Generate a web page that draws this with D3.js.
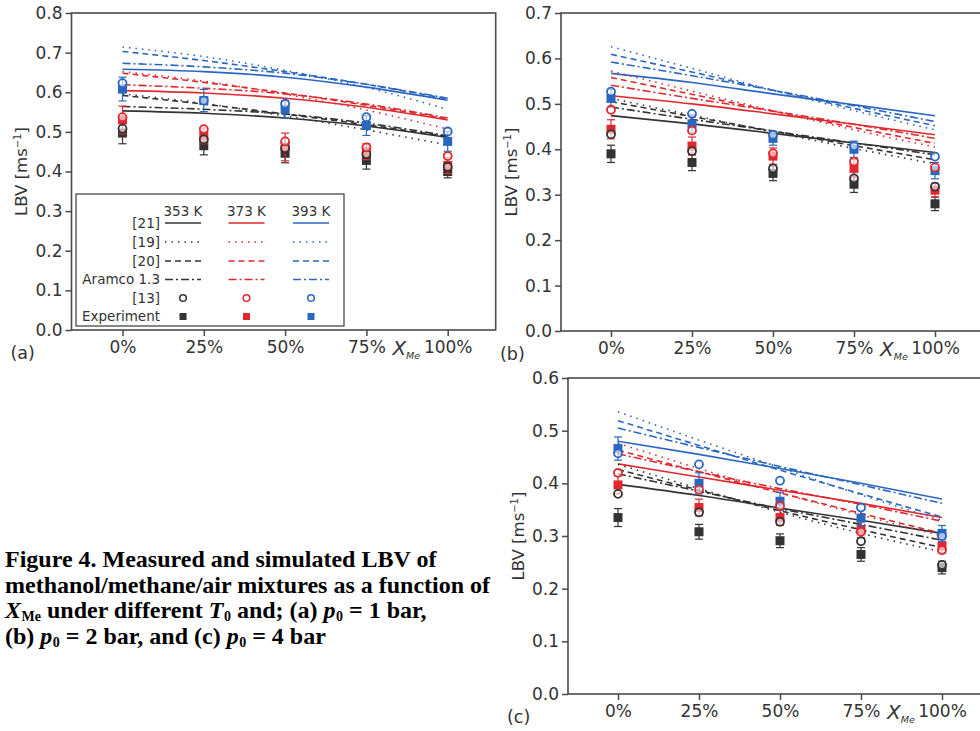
<!DOCTYPE html>
<head>
  <meta charset="utf-8">
  <script src="https://d3js.org/d3.v7.min.js"></script>
  <style>
    body { margin:0; background:#fff; }
    svg text { font-family: "DejaVu Sans", sans-serif; fill:#333; }
    .caption { font-family: "Liberation Serif", "Times New Roman", serif; font-weight: bold; font-size: 24px; fill:#000; }
  </style>
</head>
<body>
<script>
// x categories (methanol fraction X_Me, %) and initial temperatures
var xPct = [0, 25, 50, 75, 100];
var temps = ["353 K", "373 K", "393 K"];

// (a) p0 = 1 bar -- rows: 353 K, 373 K, 393 K
var a21     = [[0.553, 0.547, 0.535, 0.515, 0.486], [0.604, 0.598, 0.585, 0.562, 0.530], [0.658, 0.652, 0.638, 0.613, 0.580]];
var a19     = [[0.596, 0.572, 0.540, 0.505, 0.467], [0.652, 0.628, 0.595, 0.555, 0.507], [0.714, 0.690, 0.655, 0.612, 0.557]];
var a20     = [[0.592, 0.570, 0.545, 0.518, 0.488], [0.648, 0.625, 0.598, 0.567, 0.533], [0.703, 0.680, 0.652, 0.620, 0.583]];
var aAramco = [[0.564, 0.557, 0.545, 0.522, 0.490], [0.619, 0.610, 0.596, 0.570, 0.535], [0.673, 0.664, 0.648, 0.620, 0.585]];
var a13     = [[0.508, 0.481, 0.459, 0.444, 0.412], [0.537, 0.507, 0.476, 0.461, 0.439], [0.623, 0.579, 0.571, 0.537, 0.501]];
var aExp    = [[0.497, 0.465, 0.446, 0.428, 0.400], [0.530, 0.490, 0.462, 0.450, 0.415], [0.608, 0.579, 0.557, 0.516, 0.476]];
var aErr    = [[0.027, 0.023, 0.024, 0.022, 0.016], [0.035, 0.020, 0.035, 0.020, 0.020], [0.030, 0.028, 0.022, 0.025, 0.025]];

// (b) p0 = 2 bar
var b21     = [[0.474, 0.456, 0.435, 0.414, 0.393], [0.518, 0.500, 0.478, 0.455, 0.432], [0.567, 0.547, 0.522, 0.498, 0.474]];
var b19     = [[0.512, 0.475, 0.438, 0.402, 0.368], [0.572, 0.528, 0.485, 0.443, 0.405], [0.626, 0.578, 0.530, 0.485, 0.443]];
var b20     = [[0.505, 0.472, 0.440, 0.408, 0.377], [0.558, 0.521, 0.484, 0.448, 0.413], [0.609, 0.570, 0.530, 0.490, 0.452]];
var bAramco = [[0.493, 0.466, 0.440, 0.414, 0.388], [0.541, 0.512, 0.484, 0.455, 0.424], [0.592, 0.562, 0.530, 0.496, 0.461]];
var b13     = [[0.433, 0.396, 0.358, 0.336, 0.318], [0.487, 0.441, 0.391, 0.373, 0.360], [0.527, 0.478, 0.432, 0.407, 0.384]];
var bExp    = [[0.390, 0.371, 0.347, 0.323, 0.280], [0.444, 0.407, 0.385, 0.358, 0.310], [0.512, 0.456, 0.424, 0.400, 0.353]];
var bErr    = [[0.019, 0.018, 0.016, 0.018, 0.015], [0.021, 0.020, 0.018, 0.020, 0.015], [0.020, 0.020, 0.015, 0.018, 0.018]];

// (c) p0 = 4 bar
var c21     = [[0.398, 0.377, 0.353, 0.330, 0.305], [0.437, 0.412, 0.387, 0.362, 0.335], [0.480, 0.455, 0.428, 0.400, 0.370]];
var c19     = [[0.436, 0.390, 0.345, 0.305, 0.270], [0.476, 0.428, 0.382, 0.340, 0.300], [0.536, 0.482, 0.430, 0.378, 0.330]];
var c20     = [[0.426, 0.387, 0.348, 0.312, 0.278], [0.463, 0.422, 0.382, 0.343, 0.305], [0.519, 0.472, 0.425, 0.380, 0.336]];
var cAramco = [[0.418, 0.385, 0.352, 0.322, 0.292], [0.456, 0.422, 0.390, 0.360, 0.328], [0.505, 0.468, 0.432, 0.397, 0.362]];
var c13     = [[0.380, 0.345, 0.327, 0.290, 0.245], [0.420, 0.388, 0.357, 0.308, 0.273], [0.457, 0.436, 0.405, 0.354, 0.300]];
var cExp    = [[0.335, 0.308, 0.291, 0.265, 0.240], [0.397, 0.354, 0.335, 0.312, 0.281], [0.466, 0.400, 0.366, 0.334, 0.305]];
var cErr    = [[0.017, 0.014, 0.013, 0.013, 0.012], [0.017, 0.016, 0.015, 0.015, 0.013], [0.022, 0.020, 0.017, 0.015, 0.015]];

var yTicksA = [0, 0.1, 0.2, 0.3, 0.4, 0.5, 0.6, 0.7, 0.8];
var yTicksB = [0, 0.1, 0.2, 0.3, 0.4, 0.5, 0.6, 0.7];
var yTicksC = [0, 0.1, 0.2, 0.3, 0.4, 0.5, 0.6];

var tempColor = ["#333333", "#e0282e", "#2a67c0"];
var models = [
  {name: "[21]", dash: null},
  {name: "[19]", dash: "1.5,5"},
  {name: "[20]", dash: "6,4"},
  {name: "Aramco 1.3", dash: "8,3,2,3"}
];

var panels = [
  {tag: "(a)", left: 71.5, right: 495.7, x0: 122.5, x100: 447.7, top: 13, bottom: 330, ticks: yTicksA,
   lines: [a21, a19, a20, aAramco], sim: a13, exp: aExp, err: aErr, legend: true},
  {tag: "(b)", left: 561, right: 985, x0: 611, x100: 935, top: 13, bottom: 331, ticks: yTicksB,
   lines: [b21, b19, b20, bAramco], sim: b13, exp: bExp, err: bErr},
  {tag: "(c)", left: 568, right: 996, x0: 618, x100: 942, top: 378, bottom: 694, ticks: yTicksC,
   lines: [c21, c19, c20, cAramco], sim: c13, exp: cExp, err: cErr}
];

var svg = d3.select("body").append("svg")
  .attr("width", 980)
  .attr("height", 731);

panels.forEach(function(p) {
  var g = svg.append("g");
  var x = d3.scaleLinear().domain([0, 100]).range([p.x0, p.x100]);
  var y = d3.scaleLinear().domain([0, d3.max(p.ticks)]).range([p.bottom, p.top]);

  g.append("rect")
    .attr("x", p.left).attr("y", p.top)
    .attr("width", p.right - p.left).attr("height", p.bottom - p.top)
    .attr("fill", "none").attr("stroke", "#4a4a4a").attr("stroke-width", 1.6);

  var yAxis = g.append("g")
    .attr("transform", "translate(" + p.left + ",0)")
    .call(d3.axisLeft(y).tickValues(p.ticks).tickFormat(d3.format(".1f")).tickSize(6).tickPadding(3));
  var xAxis = g.append("g")
    .attr("transform", "translate(0," + p.bottom + ")")
    .call(d3.axisBottom(x).tickValues(xPct).tickFormat(function(d) { return d + "%"; }).tickSize(6).tickPadding(5));
  [yAxis, xAxis].forEach(function(ax) {
    ax.select(".domain").remove();
    ax.selectAll(".tick line").attr("stroke", "#4a4a4a").attr("stroke-width", 1.5);
    ax.selectAll(".tick text").style("font-size", "17px").attr("fill", "#333");
  });

  // axis titles
  var yl = g.append("text")
    .attr("transform", "translate(" + (p.left - 50) + "," + ((p.top + p.bottom) / 2) + ") rotate(-90)")
    .attr("text-anchor", "middle")
    .attr("dy", "0.35em")
    .style("font-size", "16.5px");
  yl.append("tspan").text("LBV [ms");
  yl.append("tspan").text("\u22121").style("font-size", "10px").attr("dy", -6);
  yl.append("tspan").text("]").attr("dy", 6);

  var xl = g.append("text")
    .attr("x", x(75) + 26).attr("y", p.bottom + 25)
    .style("font-size", "20px").style("font-style", "italic");
  xl.append("tspan").text("X");
  xl.append("tspan").text("Me").style("font-size", "9.5px").attr("dy", 4);

  g.append("text")
    .attr("x", p.left - 61).attr("y", p.bottom + 29)
    .style("font-size", "17.5px")
    .text(p.tag);

  // simulation lines
  var line = d3.line()
    .x(function(d) { return x(d[0]); })
    .y(function(d) { return y(d[1]); })
    .curve(d3.curveMonotoneX);
  p.lines.forEach(function(set, m) {
    set.forEach(function(vals, t) {
      g.append("path")
        .datum(xPct.map(function(v, j) { return [v, vals[j]]; }))
        .attr("d", line)
        .attr("fill", "none")
        .attr("stroke", tempColor[t])
        .attr("stroke-width", 1.6)
        .attr("stroke-dasharray", models[m].dash);
    });
  });

  // experiments with error bars
  p.exp.forEach(function(vals, t) {
    var pts = xPct.map(function(v, j) { return {x: v, y: vals[j], e: p.err[t][j]}; });
    var eb = g.append("g").attr("stroke", tempColor[t]).attr("stroke-width", 1.2);
    pts.forEach(function(d) {
      eb.append("line").attr("x1", x(d.x)).attr("x2", x(d.x)).attr("y1", y(d.y - d.e)).attr("y2", y(d.y + d.e));
      eb.append("line").attr("x1", x(d.x) - 4).attr("x2", x(d.x) + 4).attr("y1", y(d.y - d.e)).attr("y2", y(d.y - d.e));
      eb.append("line").attr("x1", x(d.x) - 4).attr("x2", x(d.x) + 4).attr("y1", y(d.y + d.e)).attr("y2", y(d.y + d.e));
    });
    g.selectAll(null).data(pts).enter().append("rect")
      .attr("x", function(d) { return x(d.x) - 4.5; })
      .attr("y", function(d) { return y(d.y) - 4.5; })
      .attr("width", 9).attr("height", 9)
      .attr("fill", tempColor[t]);
  });

  // reference [13] open circles
  p.sim.forEach(function(vals, t) {
    g.selectAll(null).data(vals).enter().append("circle")
      .attr("cx", function(d, j) { return x(xPct[j]); })
      .attr("cy", function(d) { return y(d); })
      .attr("r", 4)
      .attr("fill", "#fff").attr("fill-opacity", 0.6)
      .attr("stroke", tempColor[t]).attr("stroke-width", 1.8);
  });

  if (p.legend) drawLegend(g);
});

function drawLegend(g) {
  var lg = g.append("g");
  lg.append("rect")
    .attr("x", 76).attr("y", 194).attr("width", 268).attr("height", 132)
    .attr("fill", "#fff").attr("stroke", "#555").attr("stroke-width", 1.4);
  var cx = [183, 246.5, 311];
  var rowY = [223, 242, 261, 279.5, 298, 316.5];
  temps.forEach(function(t, i) {
    lg.append("text").attr("x", cx[i]).attr("y", 216).attr("text-anchor", "middle")
      .style("font-size", "13.5px").text(t);
  });
  var labels = models.map(function(m) { return m.name; }).concat(["[13]", "Experiment"]);
  labels.forEach(function(l, r) {
    lg.append("text").attr("x", 160).attr("y", rowY[r] + 4.5).attr("text-anchor", "end")
      .style("font-size", "13.5px").text(l);
  });
  models.forEach(function(m, r) {
    cx.forEach(function(c, i) {
      lg.append("line")
        .attr("x1", c - 18).attr("x2", c + 18)
        .attr("y1", rowY[r]).attr("y2", rowY[r])
        .attr("stroke", tempColor[i]).attr("stroke-width", 1.6)
        .attr("stroke-dasharray", m.dash);
    });
  });
  cx.forEach(function(c, i) {
    lg.append("circle").attr("cx", c).attr("cy", rowY[4]).attr("r", 3.3)
      .attr("fill", "none").attr("stroke", tempColor[i]).attr("stroke-width", 1.5);
    lg.append("rect").attr("x", c - 3.5).attr("y", rowY[5] - 3.5).attr("width", 7).attr("height", 7)
      .attr("fill", tempColor[i]);
  });
}

// caption, one text per line; subscripts as smaller shifted tspans
var capLines = [
  [["Figure 4. Measured and simulated LBV of", ""]],
  [["methanol/methane/air mixtures as a function of", ""]],
  [["X", "i"], ["Me", "s"], [" under different ", ""], ["T", "i"], ["0", "s"], [" and; (a) ", ""], ["p", "i"], ["0", "s"], [" = 1 bar,", ""]],
  [["(b) ", ""], ["p", "i"], ["0", "s"], [" = 2 bar, and (c) ", ""], ["p", "i"], ["0", "s"], [" = 4 bar", ""]]
];
capLines.forEach(function(parts, li) {
  var t = svg.append("text").attr("class", "caption").attr("x", 5).attr("y", 567 + li * 25.5);
  var shift = 0;
  parts.forEach(function(pt) {
    var ts = t.append("tspan").text(pt[0]);
    if (pt[1] === "s") { ts.style("font-size", "14px").attr("dy", 3 - shift).attr("dx", 0.5); shift = 3; }
    else { if (shift) ts.attr("dy", -shift); shift = 0; }
    if (pt[1] === "i") ts.style("font-style", "italic");
  });
});
</script>
</body>
